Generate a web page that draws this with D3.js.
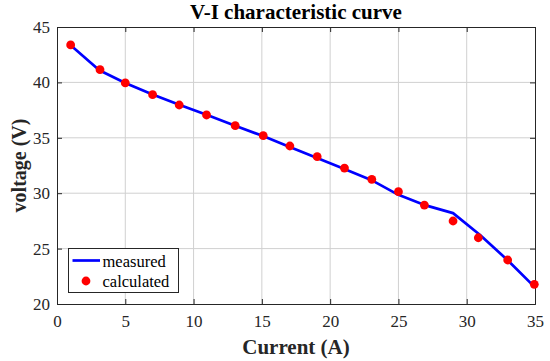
<!DOCTYPE html>
<html><head><meta charset="utf-8">
<script src="https://cdn.jsdelivr.net/npm/d3@7"></script>
<style>body{margin:0;background:#fff}svg{display:block}text{font-family:'Liberation Serif','Times New Roman',serif}</style>
</head><body>
<svg id="c" width="550" height="361"></svg>
<script>
const title = "V-I characteristic curve";
const xLabel = "Current (A)";
const yLabel = "voltage (V)";
const xTicks = [0,5,10,15,20,25,30,35];
const yTicks = [20,25,30,35,40,45];
const measuredI = [1,3.1,5,7,9,11,13,15,17,19,21,23,25,27,29,31,33,35];
const measuredV = [43.35,41.1,39.95,38.9,37.95,37.05,36.1,35.2,34.2,33.2,32.2,31.2,29.85,28.9,28.2,26.2,23.95,21.5];
const calcI = [1,3.15,5,7,8.95,10.95,13.05,15.1,17.05,19.05,21.05,23.05,25,26.9,29,30.85,33,34.95];
const calcV = [43.38,41.15,39.95,38.89,37.96,37.06,36.09,35.19,34.26,33.3,32.27,31.25,30.14,28.93,27.49,25.98,23.97,21.78];

const svg = d3.select("#c");
const L=57, R=535, T=27, B=304;
const x = d3.scaleLinear().domain([0,35]).range([L,R]);
const y = d3.scaleLinear().domain([20,45]).range([B,T]);
const axisCol = "#262626", gridCol = "#d0d0d0";
const font = "'Liberation Serif', 'Times New Roman', serif";

// grid
svg.append("g").selectAll("line").data(xTicks.slice(1,-1)).join("line")
  .attr("x1",d=>x(d)).attr("x2",d=>x(d)).attr("y1",T).attr("y2",B)
  .attr("stroke",gridCol).attr("stroke-width",1);
svg.append("g").selectAll("line").data(yTicks.slice(1,-1)).join("line")
  .attr("y1",d=>y(d)).attr("y2",d=>y(d)).attr("x1",L).attr("x2",R)
  .attr("stroke",gridCol).attr("stroke-width",1);

// axes
const xa = svg.append("g").attr("transform",`translate(0,${B})`)
  .call(d3.axisBottom(x).tickValues(xTicks).tickSize(-5).tickPadding(11).tickFormat(d3.format("d")));
const xt = svg.append("g").attr("transform",`translate(0,${T})`)
  .call(d3.axisTop(x).tickValues(xTicks).tickSize(-5).tickFormat(""));
const ya = svg.append("g").attr("transform",`translate(${L},0)`)
  .call(d3.axisLeft(y).tickValues(yTicks).tickSize(-5).tickPadding(7).tickFormat(d3.format("d")));
const yr = svg.append("g").attr("transform",`translate(${R},0)`)
  .call(d3.axisRight(y).tickValues(yTicks).tickSize(-5).tickFormat(""));
[xa,xt,ya,yr].forEach(g=>{
  g.attr("font-family",null).attr("font-size",17);
  g.selectAll("path").attr("stroke",axisCol).attr("stroke-width",1);
  g.selectAll("line").attr("stroke",axisCol).attr("stroke-width",1);
  g.selectAll("text").attr("fill","#262626").style("font-family",font);
});

// measured line
const line = d3.line().x(d=>x(d[0])).y(d=>y(d[1]));
svg.append("path").datum(measuredI.map((v,i)=>[v,measuredV[i]]))
  .attr("d",line).attr("fill","none").attr("stroke","#0000ff").attr("stroke-width",2.7)
  .attr("stroke-linejoin","round");

// calculated dots
svg.append("g").selectAll("circle").data(calcI.map((v,i)=>[v,calcV[i]])).join("circle")
  .attr("cx",d=>x(d[0])).attr("cy",d=>y(d[1])).attr("r",4.4).attr("fill","#ff0000");

// title & labels
svg.append("text").attr("x",296).attr("y",19).attr("text-anchor","middle")
  .attr("font-weight","bold").attr("font-size",21).attr("fill","#000").text(title);
svg.append("text").attr("x",296).attr("y",354).attr("text-anchor","middle")
  .attr("font-weight","bold").attr("font-size",21).attr("fill","#262626").text(xLabel);
svg.append("text").attr("transform",`translate(26,${(T+B)/2}) rotate(-90)`).attr("text-anchor","middle")
  .attr("font-weight","bold").attr("font-size",20).attr("fill","#262626").text(yLabel);

// legend
const lg = svg.append("g");
lg.append("rect").attr("x",68.5).attr("y",248.5).attr("width",110).attr("height",44)
  .attr("fill","#fff").attr("stroke",axisCol).attr("stroke-width",1);
lg.append("line").attr("x1",72.5).attr("x2",100).attr("y1",260.5).attr("y2",260.5)
  .attr("stroke","#0000ff").attr("stroke-width",2.7);
lg.append("circle").attr("cx",86).attr("cy",281).attr("r",4.4).attr("fill","#ff0000");
lg.append("text").attr("x",102.5).attr("y",266.5).text("measured")
  .attr("font-size",16.5).attr("fill","#000");
lg.append("text").attr("x",102.5).attr("y",287).text("calculated")
  .attr("font-size",16.5).attr("fill","#000");
</script>
</body></html>
